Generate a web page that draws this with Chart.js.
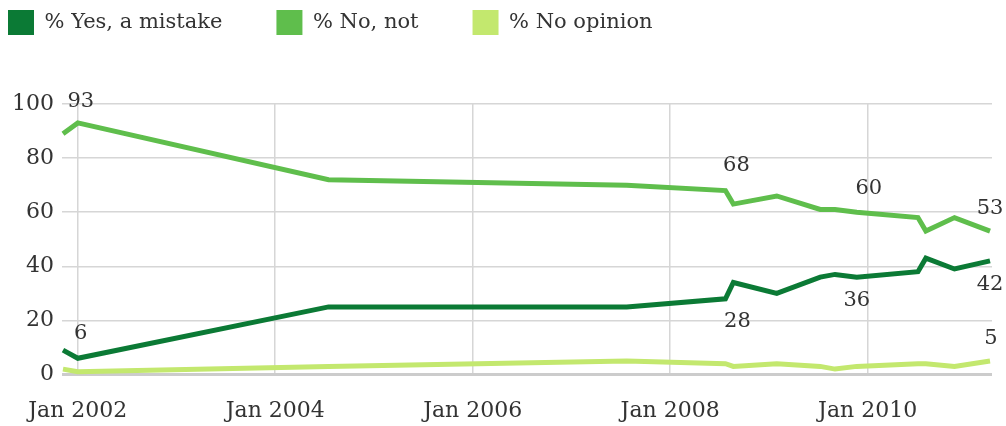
<!DOCTYPE html>
<html>
<head>
<meta charset="utf-8">
<script src="https://cdn.jsdelivr.net/npm/chart.js@4.4.1/dist/chart.umd.min.js"></script>
<style>
  html, body { margin: 0; padding: 0; background: #ffffff; }
  #wrap { width: 1006px; height: 426px; position: relative; }
</style>
</head>
<body>
<div id="wrap"><canvas id="c" width="1006" height="426"></canvas></div>
<script>
// ---- data ----
const surveyDates = [2001.85, 2002.0, 2004.54, 2007.56, 2008.56, 2008.64, 2009.08, 2009.52, 2009.67, 2009.89, 2010.51, 2010.59, 2010.88, 2011.24];
const yesMistake  = [9, 6, 25, 25, 28, 34, 30, 36, 37, 36, 38, 43, 39, 42];
const noNot       = [89, 93, 72, 70, 68, 63, 66, 61, 61, 60, 58, 53, 58, 53];
const noOpinion   = [2, 1, 3, 5, 4, 3, 4, 3, 2, 3, 4, 4, 3, 5];
const seriesNames = ['% Yes, a mistake', '% No, not', '% No opinion'];
const xTickYears  = [2002, 2004, 2006, 2008, 2010];
const xTickLabels = ['Jan 2002', 'Jan 2004', 'Jan 2006', 'Jan 2008', 'Jan 2010'];
const yTickValues = [0, 20, 40, 60, 80, 100];
// labelled points: [series index, point index]
const labelledPoints = [[1, 1], [0, 1], [1, 4], [0, 4], [1, 9], [0, 9], [1, 13], [0, 13], [2, 13]];

// ---- styling ----
const COLORS = ['#0b7a35', '#5fbe4c', '#c3e86e'];
const FONT = 'DejaVu Serif';
const TEXT = '#333333';
// label offsets (pixels) relative to the point, same order as labelledPoints
const labelOffsets = [[3, -21], [3, -25], [11, -25], [12, 23], [12, -24], [0, 23], [0, -23], [0, 24], [1, -22]];

const seriesValues = [yesMistake, noNot, noOpinion];

const datasets = seriesValues.map((vals, s) => ({
  label: seriesNames[s],
  data: surveyDates.map((d, i) => ({ x: d, y: vals[i] })),
  borderColor: COLORS[s],
  backgroundColor: COLORS[s],
  borderWidth: 5,
  pointRadius: 0,
  pointHoverRadius: 0,
  tension: 0,
  fill: false,
  clip: false
}));

const legendHeightPlugin = {
  id: 'legendHeight',
  beforeLayout(chart) {
    const lg = chart.legend;
    if (lg && !lg.__patched) {
      const f = lg.fit;
      lg.fit = function () { f.call(this); this.height = 148; };
      lg.__patched = true;
    }
  }
};

const valueLabelPlugin = {
  id: 'valueLabels',
  afterDatasetsDraw(chart) {
    const ctx = chart.ctx;
    ctx.save();
    ctx.font = '21px "' + FONT + '"';
    ctx.fillStyle = TEXT;
    ctx.textAlign = 'center';
    ctx.textBaseline = 'middle';
    labelledPoints.forEach(([s, i], k) => {
      const pt = chart.getDatasetMeta(s).data[i];
      const [dx, dy] = labelOffsets[k];
      ctx.fillText(String(seriesValues[s][i]), pt.x + dx, pt.y + dy);
    });
    ctx.restore();
  }
};

new Chart(document.getElementById('c'), {
  type: 'line',
  data: { datasets },
  plugins: [legendHeightPlugin, valueLabelPlugin],
  options: {
    responsive: false,
    devicePixelRatio: 1,
    animation: false,
    events: [],
    layout: { padding: { top: -44, left: -46, right: 14, bottom: 0 } },
    plugins: {
      tooltip: { enabled: false },
      legend: {
        display: true,
        position: 'top',
        align: 'start',
        labels: {
          boxWidth: 26,
          boxHeight: 25,
          padding: 54,
          color: TEXT,
          font: { family: FONT, size: 21 },
          generateLabels(chart) {
            return Chart.defaults.plugins.legend.labels.generateLabels(chart).map(l => ({ ...l, lineWidth: 0 }));
          }
        }
      }
    },
    scales: {
      x: {
        type: 'linear',
        min: 2001.84,
        max: 2011.26,
        afterBuildTicks(scale) { scale.ticks = xTickYears.map(v => ({ value: v })); },
        afterFit(scale) { scale.height = 51.5; },
        ticks: {
          autoSkip: false,
          maxRotation: 0,
          padding: 24,
          color: TEXT,
          font: { family: FONT, size: 22 },
          callback(v) { const k = xTickYears.indexOf(v); return k >= 0 ? xTickLabels[k] : ''; }
        },
        grid: { color: '#d6d6d6', lineWidth: 1.5, drawTicks: false },
        border: { display: false }
      },
      y: {
        min: 0,
        max: 100,
        afterBuildTicks(scale) { scale.ticks = yTickValues.map(v => ({ value: v })); },
        afterFit(scale) { scale.width = 108; },
        ticks: {
          padding: 8,
          color: TEXT,
          font: { family: FONT, size: 22 }
        },
        grid: {
          drawTicks: false,
          color: (c) => (c.tick && c.tick.value === 0 ? '#cccccc' : '#d6d6d6'),
          lineWidth: (c) => (c.tick && c.tick.value === 0 ? 3 : 1.5)
        },
        border: { display: false }
      }
    }
  }
});
</script>
</body>
</html>
